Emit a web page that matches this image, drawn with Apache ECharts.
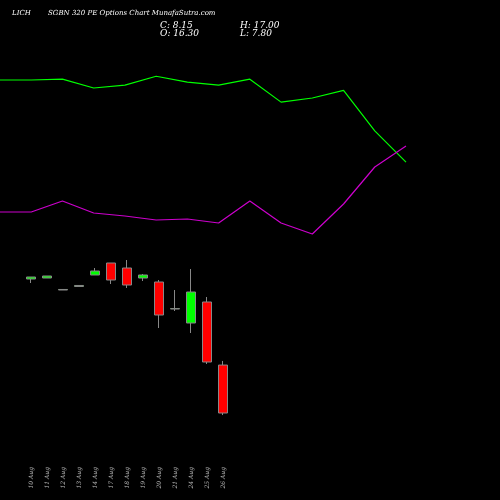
<!DOCTYPE html><html><head><meta charset="utf-8"><script src="https://cdn.jsdelivr.net/npm/echarts@6/dist/echarts.min.js"></script>
<style>html,body{margin:0;background:#000}#c{width:500px;height:500px}</style></head><body><div id="c"></div><script>
const dates=['10 Aug','11 Aug','12 Aug','13 Aug','14 Aug','17 Aug','18 Aug','19 Aug','20 Aug','21 Aug','24 Aug','25 Aug','26 Aug'];
const opens=[30.93,31.1,29.06,29.66,31.61,33.65,32.8,31.1,30.42,25.83,23.45,27.02,16.3];
const closes=[31.27,31.44,29.15,29.83,32.29,30.76,29.91,31.61,24.81,25.9,28.72,16.82,8.15];
const lows=[30.25,31.1,29.06,29.66,31.61,30.08,29.4,30.59,22.6,25.49,21.75,16.48,7.8];
const highs=[31.27,31.44,29.15,29.83,32.8,33.65,34.16,31.78,30.76,29.06,32.63,27.87,17.0];
const greenLine=[64.76,64.76,64.9,63.4,63.9,65.4,64.4,63.9,64.9,61.0,61.7,63.0,56.1,50.8];
const purpleLine=[42.32,42.32,44.19,42.15,41.64,40.96,41.13,40.45,44.19,40.45,38.58,43.68,49.97,53.54];
const lineIdx=greenLine.map((_,i)=>String(i));
const YMIN=3.56,YMAX=71.56;
const ch=echarts.init(document.getElementById('c'));
ch.setOption({backgroundColor:'#000',animation:false,
graphic:[
{type:'text',left:12,top:10,style:{text:'LICH',fill:'#fff',font:'italic 7px DejaVu Serif'}},
{type:'text',left:48,top:10,style:{text:'SGBN 320 PE Options Chart MunafaSutra.com',fill:'#fff',font:'italic 7px DejaVu Serif'}},
{type:'text',left:160,top:21,style:{text:'C: 8.15',fill:'#fff',font:'italic 9px DejaVu Serif'}},
{type:'text',left:160,top:29,style:{text:'O: 16.30',fill:'#fff',font:'italic 9px DejaVu Serif'}},
{type:'text',left:240,top:21,style:{text:'H: 17.00',fill:'#fff',font:'italic 9px DejaVu Serif'}},
{type:'text',left:240,top:29,style:{text:'L: 7.80',fill:'#fff',font:'italic 9px DejaVu Serif'}}],
grid:[{left:23,width:208,top:40,bottom:60},{left:0,width:406,top:40,bottom:60}],
xAxis:[{type:'category',data:dates,gridIndex:0,axisLine:{show:false},axisTick:{show:false},
 axisLabel:{rotate:90,color:'#bbb',fontSize:6,fontFamily:'DejaVu Serif',fontStyle:'italic',margin:27,interval:0}},
 {type:'category',data:lineIdx,gridIndex:1,boundaryGap:false,show:false}],
yAxis:[{type:'value',gridIndex:0,min:YMIN,max:YMAX,show:false},{type:'value',gridIndex:1,min:YMIN,max:YMAX,show:false}],
series:[
{type:'candlestick',xAxisIndex:0,yAxisIndex:0,barWidth:9,data:dates.map((d,i)=>[opens[i],closes[i],lows[i],highs[i]]),
 itemStyle:{color:'#00ff00',color0:'#ff0000',borderColor:'#888',borderColor0:'#888',borderWidth:1}},
{type:'line',xAxisIndex:1,yAxisIndex:1,data:greenLine,symbol:'none',lineStyle:{color:'#00ff00',width:1.2}},
{type:'line',xAxisIndex:1,yAxisIndex:1,data:purpleLine,symbol:'none',lineStyle:{color:'#cc00cc',width:1.2}}]});
</script></body></html>
